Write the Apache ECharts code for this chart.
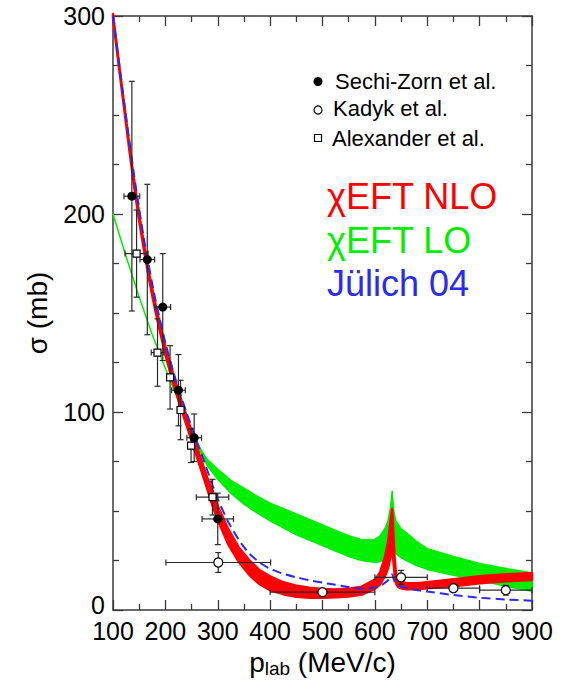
<!DOCTYPE html>
<html><head><meta charset="utf-8">
<script src="https://cdn.jsdelivr.net/npm/echarts@6/dist/echarts.min.js"></script>
<style>html,body{margin:0;padding:0;background:#fff}#c{width:562px;height:688px}</style>
</head><body><div id="c"></div>
<script>
// ---- tick labels ----
const xTicks = [100, 200, 300, 400, 500, 600, 700, 800, 900];
const yTicks = [0, 100, 200, 300];

// ---- chiEFT NLO band (red) ----
const xNLO    = [100,110,120,130,140,150,160,170,180,190,200,210,220,230,240,250,260,270,280,290,300,320,340,360,380,400,425,450,475,500,525,550,575,600,610,620,625,630,633,635,638,641,645,650,660,680,700,750,800,850,900];
const nloLow  = [299,277,256,234.8,214.6,196.5,180.5,165.4,152.3,140.3,129,119.3,110.3,101.7,93.7,85.5,77.5,69.4,61.2,52.7,45.5,33.2,24.4,17.8,13.0,10.0,8.0,6.7,6.2,6.2,6.4,6.8,7.8,10.7,13,17.5,21,27,32,26,17,13,11.5,11,10.5,10.5,11,12,13.5,14.5,15.2];
const nloHigh = [301,279,258,237.2,217.4,199.5,183.5,168.6,155.7,143.7,133,123.7,114.7,106.3,98.3,90.5,82.5,74.6,66.8,60.3,52.5,40.8,31.6,25.2,20.0,17.0,14.0,12.3,11.2,10.6,10.4,10.8,11.8,15.3,19,27.5,34,45,51,40,25,17,15,14.5,13.5,13.5,14,15.5,17,18,18.7];

// ---- chiEFT LO band (green) ----
const xLO    = [100,125,150,175,200,225,250,260,270,280,300,325,350,375,400,450,500,550,575,600,610,620,625,630,633,636,640,650,660,680,700,750,800,850,900];
const loLow  = [200,178.5,158,139,122,105.5,90,84,78.5,73,66,59,53.5,49,45,38,32.5,27,25,24,24.5,25.5,26.5,28,30,30,28.5,26.5,25,22.5,20.5,17.5,15,12,9.5];
const loHigh = [200,178.5,158,139,122,105.5,90,85,80,76,71,65.5,61.5,57.5,54,48.5,43,37.5,35.5,35.5,37.5,41.5,45,52,60,50,45,41,39,34.5,31,27,23.5,21,18.7];

// ---- Juelich 04 (blue dashed) ----
const xJ     = [100,120,140,160,180,200,220,240,260,270,280,290,300,320,340,360,380,400,425,450,475,500,525,550,575,600,615,625,630,633,636,640,650,675,700,750,800,850,900];
const julich = [300,259,220,186,158,135,116,100,85,78,70.5,63,56,44.5,35.5,28.5,24,20.8,18.3,16.5,15,13.8,12.7,11.6,10.8,11.3,13,15,16.8,18,15.5,13.5,12,10.3,9.3,7.6,6.2,5.3,4.7];

// ---- data: Sechi-Zorn et al. (filled circles) ----
const szX  = [136, 165.5, 195, 225, 255, 300];
const szY  = [209, 177, 153, 111, 87, 46];
const szDX = [15, 14, 15, 13, 14, 30];
const szDY = [58, 38, 27, 18, 12, 13];

// ---- data: Kadyk et al. (open circles) ----
const kaX  = [301, 500, 650, 750, 850];
const kaY  = [24, 9, 16.5, 11, 10];
const kaDX = [100, 100, 50, 50, 50];
const kaDY = [5, 0, 3.5, 1.5, 2.5];

// ---- data: Alexander et al. (open squares) ----
const alX  = [145, 185, 209, 229, 249, 290];
const alY  = [180, 130, 117.5, 101, 83, 57];
const alDX = [22, 12, 6, 6, 6, 31];
const alDY = [22, 17, 16, 15, 8.5, 9];

const FONT = '"Liberation Sans", Arial, Helvetica, sans-serif';
const AX = '#3a3a3a';

function pairs(xs, ys) { return xs.map((x, i) => [x, ys[i]]); }
function errData(xs, ys, dxs, dys) { return xs.map((x, i) => [x, ys[i], dxs[i], dys[i]]); }

function bandSeries(name, xs, lo, hi, color, lw) {
  return {
    name: name, type: 'custom', silent: true, z: 2,
    data: xs.map((x, i) => [x, lo[i], hi[i]]),
    encode: { x: 0, y: [1, 2] },
    renderItem: function (params, api) {
      if (params.dataIndexInside !== 0) return null;
      const n = params.dataInsideLength;
      const top = [], bot = [];
      for (let j = 0; j < n; j++) {
        const x = api.value(0, j);
        top.push(api.coord([x, api.value(2, j)]));
        bot.push(api.coord([x, api.value(1, j)]));
      }
      return {
        type: 'polygon',
        shape: { points: top.concat(bot.reverse()) },
        style: { fill: color, stroke: color, lineWidth: lw, lineJoin: 'round' }
      };
    }
  };
}

function errRender(params, api) {
  const x = api.value(0), y = api.value(1), dx = api.value(2), dy = api.value(3);
  const c = api.coord([x, y]);
  const st = { stroke: '#2a2a2a', lineWidth: 1.2, fill: null };
  const cap = 3;
  const ch = [];
  if (dy > 0) {
    const t = api.coord([x, y + dy]), b = api.coord([x, y - dy]);
    ch.push({ type: 'line', shape: { x1: c[0], y1: t[1], x2: c[0], y2: b[1] }, style: st });
    ch.push({ type: 'line', shape: { x1: c[0] - cap, y1: t[1], x2: c[0] + cap, y2: t[1] }, style: st });
    ch.push({ type: 'line', shape: { x1: c[0] - cap, y1: b[1], x2: c[0] + cap, y2: b[1] }, style: st });
  }
  if (dx > 0) {
    const l = api.coord([x - dx, y]), r = api.coord([x + dx, y]);
    ch.push({ type: 'line', shape: { x1: l[0], y1: c[1], x2: r[0], y2: c[1] }, style: st });
    ch.push({ type: 'line', shape: { x1: l[0], y1: c[1] - cap, x2: l[0], y2: c[1] + cap }, style: st });
    ch.push({ type: 'line', shape: { x1: r[0], y1: c[1] - cap, x2: r[0], y2: c[1] + cap }, style: st });
  }
  return { type: 'group', children: ch };
}

const tickCommon = {
  axisLine: { show: true, onZero: false, lineStyle: { color: AX, width: 1.5 } },
  axisTick: { show: true, inside: true, length: 10, lineStyle: { color: AX, width: 1.3 } },
  splitLine: { show: false },
  minorSplitLine: { show: false }
};

const chart = echarts.init(document.getElementById('c'), null, { renderer: 'svg' });
chart.setOption({
  animation: false,
  backgroundColor: '#fff',
  grid: { left: 113, right: 30, top: 16, bottom: 78, containLabel: false, outerBoundsMode: 'none' },
  xAxis: [
    Object.assign({
      type: 'value', position: 'bottom',
      min: xTicks[0], max: xTicks[xTicks.length - 1], interval: xTicks[1] - xTicks[0],
      minorTick: { show: true, splitNumber: 2, length: 6, lineStyle: { color: AX, width: 1.3 } },
      axisLabel: { show: true, fontSize: 25, lineHeight: 18, color: '#000', fontFamily: FONT, margin: 12, showMinLabel: true, showMaxLabel: true,
        formatter: v => (xTicks.indexOf(v) >= 0 ? String(v) : '') },
      name: '{a|p}{b|lab}{a| (MeV/c)}',
      nameLocation: 'middle', nameGap: 38,
      nameTextStyle: {
        rich: {
          a: { fontSize: 28, fontFamily: FONT, color: '#000', lineHeight: 28, padding: [0, 0, 12, 0] },
          b: { fontSize: 19, fontFamily: FONT, color: '#000', lineHeight: 17 }
        }
      }
    }, tickCommon),
    Object.assign({
      type: 'value', position: 'top',
      min: xTicks[0], max: xTicks[xTicks.length - 1], interval: xTicks[1] - xTicks[0],
      minorTick: { show: true, splitNumber: 2, length: 6, lineStyle: { color: AX, width: 1.3 } },
      axisLabel: { show: false }
    }, tickCommon)
  ],
  yAxis: [
    Object.assign({
      type: 'value', position: 'left',
      min: yTicks[0], max: yTicks[yTicks.length - 1], interval: yTicks[1] - yTicks[0],
      minorTick: { show: true, splitNumber: 4, length: 6, lineStyle: { color: AX, width: 1.3 } },
      axisLabel: { show: true, fontSize: 25, lineHeight: 18, color: '#000', fontFamily: FONT, margin: 8, showMinLabel: true, showMaxLabel: true,
        formatter: v => (yTicks.indexOf(v) < 0 ? '' : (v === yTicks[0] ? '{z|' + v + '}' : String(v))),
        rich: { z: { fontSize: 25, lineHeight: 18, fontFamily: FONT, color: '#000', padding: [0, 0, 10, 0] } } },
      name: 'σ (mb)', nameLocation: 'middle', nameGap: 62,
      nameTextStyle: { fontSize: 28, fontFamily: FONT, color: '#000' }
    }, tickCommon),
    Object.assign({
      type: 'value', position: 'right',
      min: yTicks[0], max: yTicks[yTicks.length - 1], interval: yTicks[1] - yTicks[0],
      minorTick: { show: true, splitNumber: 4, length: 6, lineStyle: { color: AX, width: 1.3 } },
      axisLabel: { show: false }
    }, tickCommon)
  ],
  series: [
    bandSeries('χEFT LO', xLO, loLow, loHigh, '#00ee00', 1.5),
    bandSeries('χEFT NLO', xNLO, nloLow, nloHigh, '#ff0000', 2.5),
    { name: 'Jülich 04', type: 'line', data: pairs(xJ, julich), showSymbol: false, symbol: 'none', smooth: 0.2, z: 3,
      lineStyle: { color: '#2a2af5', width: 2, type: [9, 5] }, silent: true },
    { name: 'err SZ', type: 'custom', renderItem: errRender, data: errData(szX, szY, szDX, szDY), encode: { x: 0, y: 1 }, silent: true, z: 4 },
    { name: 'err KA', type: 'custom', renderItem: errRender, data: errData(kaX, kaY, kaDX, kaDY), encode: { x: 0, y: 1 }, silent: true, z: 4 },
    { name: 'err AL', type: 'custom', renderItem: errRender, data: errData(alX, alY, alDX, alDY), encode: { x: 0, y: 1 }, silent: true, z: 4 },
    { name: 'Sechi-Zorn et al.', type: 'scatter', data: pairs(szX, szY), symbol: 'circle', symbolSize: 9,
      itemStyle: { color: '#000', opacity: 1 }, z: 5 },
    { name: 'Kadyk et al.', type: 'scatter', data: pairs(kaX, kaY), symbol: 'circle', symbolSize: 9,
      itemStyle: { color: '#fff', borderColor: '#000', borderWidth: 1.2, opacity: 1 }, z: 5 },
    { name: 'Alexander et al.', type: 'scatter', data: pairs(alX, alY), symbol: 'rect', symbolSize: 7,
      itemStyle: { color: '#fff', borderColor: '#000', borderWidth: 1.2, opacity: 1 }, z: 5 }
  ],
  graphic: [
    { type: 'circle', z: 10, shape: { cx: 318, cy: 81.5, r: 4.5 }, style: { fill: '#000' } },
    { type: 'text', z: 10, x: 335, y: 81.5, style: { text: 'Sechi-Zorn et al.', fontSize: 22, fontFamily: FONT, fill: '#000', verticalAlign: 'middle', align: 'left' } },
    { type: 'circle', z: 10, shape: { cx: 318, cy: 110, r: 4 }, style: { fill: '#fff', stroke: '#000', lineWidth: 1.2 } },
    { type: 'text', z: 10, x: 333, y: 108, style: { text: 'Kadyk et al.', fontSize: 22, fontFamily: FONT, fill: '#000', verticalAlign: 'middle', align: 'left' } },
    { type: 'rect', z: 10, shape: { x: 314.5, y: 134.5, width: 7, height: 7 }, style: { fill: '#fff', stroke: '#000', lineWidth: 1.2 } },
    { type: 'text', z: 10, x: 332, y: 138, style: { text: 'Alexander et al.', fontSize: 22, fontFamily: FONT, fill: '#000', verticalAlign: 'middle', align: 'left' } },
    { type: 'text', z: 10, x: 327, y: 196.5, style: { text: 'χEFT NLO', fontSize: 36, fontFamily: FONT, fill: '#ff0000', verticalAlign: 'middle', align: 'left' } },
    { type: 'text', z: 10, x: 327, y: 240, style: { text: 'χEFT LO', fontSize: 36, fontFamily: FONT, fill: '#00ee00', verticalAlign: 'middle', align: 'left' } },
    { type: 'text', z: 10, x: 327, y: 283.5, style: { text: 'Jülich 04', fontSize: 36, fontFamily: FONT, fill: '#2a2af0', verticalAlign: 'middle', align: 'left' } }
  ]
});
</script>
</body></html>
